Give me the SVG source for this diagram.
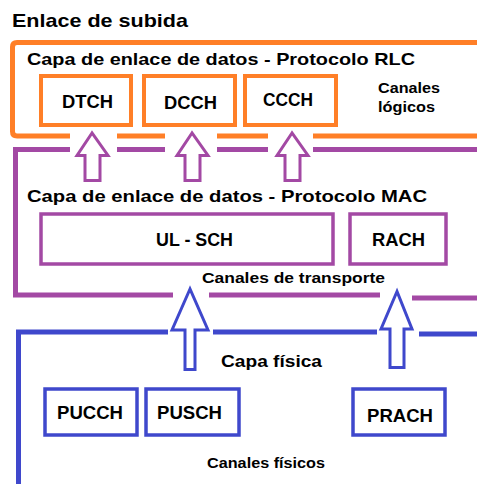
<svg xmlns="http://www.w3.org/2000/svg" width="477" height="484" viewBox="0 0 477 484">
<style>
text{font-family:"Liberation Sans",Arial,sans-serif;font-weight:bold;fill:#000;}
.t{font-size:17px;}
.b{font-size:18px;}
.s{font-size:15px;}
.fr{fill:none;stroke-width:5;}
.or{stroke:#FF7F27;}
.pu{stroke:#A349A4;}
.bl{stroke:#3F48CC;}
.box{fill:#fff;}
.ob{stroke:#FF7F27;stroke-width:4;}
.pb{stroke:#A349A4;stroke-width:3.5;}
.bb{stroke:#3F48CC;stroke-width:3.5;}
.ar{fill:#fff;stroke-width:3;stroke-linejoin:miter;stroke-miterlimit:10;}
</style>
<rect width="477" height="484" fill="#fff"/>
<text x="12" y="27" font-size="19" textLength="176" lengthAdjust="spacingAndGlyphs">Enlace de subida</text>
<g id="frames">
<path class="fr or" d="M480 42.5 H17 Q12.5 42.5 12.5 47 V131.5 Q12.5 136 17 136 H70 M117 136 H165 M217 136 H268 M313 136 H480"/>
<path class="fr pu" d="M70 149.5 H15.5 V295 H173 M117 149.5 H165 M217 149.5 H268 M313 149.5 H480 M209 295 H380 M412 298 H480"/>
<path class="fr bl" d="M168 332 H18.5 V490 M213 332 H377 M419 334 H480"/>
</g>
<g id="rlc-layer">
<text class="t" x="27" y="65" textLength="388" lengthAdjust="spacingAndGlyphs">Capa de enlace de datos - Protocolo RLC</text>
<text class="s" x="378" y="93" textLength="62" lengthAdjust="spacingAndGlyphs">Canales</text>
<text class="s" x="378" y="112" textLength="57" lengthAdjust="spacingAndGlyphs">lógicos</text>
</g>
<g id="DTCH"><rect class="box ob" x="41" y="76" width="90" height="49"/><text class="b" x="62" y="108" textLength="51" lengthAdjust="spacingAndGlyphs">DTCH</text></g>
<g id="DCCH"><rect class="box ob" x="144" y="76" width="91" height="49"/><text class="b" x="164" y="109" textLength="53" lengthAdjust="spacingAndGlyphs">DCCH</text></g>
<g id="CCCH"><rect class="box ob" x="245" y="76" width="91" height="49"/><text class="b" x="263" y="106" textLength="50" lengthAdjust="spacingAndGlyphs">CCCH</text></g>
<g id="mac-layer">
<text class="t" x="27" y="202" textLength="400" lengthAdjust="spacingAndGlyphs">Capa de enlace de datos - Protocolo MAC</text>
<text class="s" x="202" y="283" textLength="183" lengthAdjust="spacingAndGlyphs">Canales de transporte</text>
</g>
<g id="UL-SCH"><rect class="box pb" x="41" y="214" width="292" height="50"/><text class="b" x="156" y="246" textLength="77" lengthAdjust="spacingAndGlyphs">UL - SCH</text></g>
<g id="RACH"><rect class="box pb" x="350" y="214" width="96" height="50"/><text class="b" x="372" y="246" textLength="53" lengthAdjust="spacingAndGlyphs">RACH</text></g>
<g id="phy-layer">
<text class="t" x="221" y="367" textLength="101" lengthAdjust="spacingAndGlyphs">Capa física</text>
<text class="s" x="207" y="468" textLength="118" lengthAdjust="spacingAndGlyphs">Canales físicos</text>
</g>
<g id="PUCCH"><rect class="box bb" x="45" y="389" width="92" height="46"/><text class="b" x="57" y="419" textLength="66" lengthAdjust="spacingAndGlyphs">PUCCH</text></g>
<g id="PUSCH"><rect class="box bb" x="146" y="389" width="93" height="46"/><text class="b" x="157" y="419" textLength="65" lengthAdjust="spacingAndGlyphs">PUSCH</text></g>
<g id="PRACH"><rect class="box bb" x="353" y="389" width="92" height="46"/><text class="b" x="367" y="422" textLength="66" lengthAdjust="spacingAndGlyphs">PRACH</text></g>
<g id="connectors">
<polygon class="ar pu" points="92,133 77,155.5 85,155.5 85,180.5 100,180.5 100,155.5 108,155.5"/>
<polygon class="ar pu" points="192,133 177,155.5 185,155.5 185,180.5 200,180.5 200,155.5 208,155.5"/>
<polygon class="ar pu" points="292,133 277,155.5 285,155.5 285,180.5 300,180.5 300,155.5 308,155.5"/>
<polygon class="ar bl" points="190,289 172,330 185,330 185,369.5 195,369.5 195,330 208,330"/>
<polygon class="ar bl" points="397,291.5 381,329 390,329 390,367.5 404,367.5 404,329 412,329"/>
</g>
</svg>
